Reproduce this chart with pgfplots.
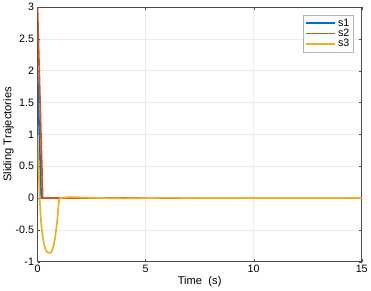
\documentclass[border=0pt]{standalone}
\usepackage{pgfplots}
\pgfplotsset{compat=1.18}
\usepackage{fontspec}
\setmainfont{Liberation Sans}
\definecolor{mblue}{rgb}{0,0.447,0.741}
\definecolor{mred}{rgb}{0.85,0.325,0.098}
\definecolor{myel}{rgb}{0.929,0.694,0.125}
\begin{document}
\begin{tikzpicture}
\begin{axis}[
  scale only axis,
  width=326bp, height=256bp,
  xmin=0, xmax=15, ymin=-1, ymax=3,
  xtick={0,5,10,15},
  ytick={-1,-0.5,0,0.5,1,1.5,2,2.5,3},
  yticklabels={-1,-0.5,0,0.5,1,1.5,2,2.5,3},
  xticklabels={0,5,10,15},
  grid=major,
  major grid style={gray!15, line width=0.5pt},
  axis line style={gray!60!black, line width=0.5pt},
  tick style={gray!60!black},
  tick align=inside,
  major tick length=3bp,
  ticklabel style={font=\fontsize{10.8}{12}\selectfont},
  xlabel={Time\ \ (s)},
  ylabel={Sliding Trajectories},
  label style={font=\fontsize{11.3}{13}\selectfont},
  xlabel style={yshift=3bp},
  ylabel style={yshift=-5bp},
  legend style={at={(rel axis cs:0.973,0.969)}, anchor=north east,
    font=\fontsize{10.8}{12}\selectfont, draw=gray!60, inner sep=1.5bp,
    row sep=-2.5bp},
  legend cell align=left,
  legend image code/.code={\draw[mark repeat=2,mark phase=2,#1] plot coordinates {(0cm,0cm) (0.5cm,0cm) (1.05cm,0cm)};},
]
\addplot[mblue, line width=1.7pt] coordinates {(0,2) (0.17,0) (15,0)};
\addlegendentry{s1}
\addplot[mred, line width=1.7pt] coordinates {(0,3) (0.24,0) (15,0)};
\addlegendentry{s2}
\addplot[myel, line width=1.7pt, smooth, tension=0.4] coordinates {
 (0,1) (0.05,0.5) (0.1,0.02) (0.15,-0.3) (0.2,-0.5) (0.3,-0.72) (0.4,-0.83)
 (0.5,-0.86) (0.6,-0.86) (0.7,-0.8) (0.8,-0.65) (0.9,-0.4) (0.95,-0.2)
 (1.0,-0.03) (1.05,0) (1.5,0.015) (2,0.01) (3,0) (4,-0.005) (5,0) (6,0.003)
 (8,0) (10,0) (12,0) (15,0)};
\addlegendentry{s3}
\end{axis}
\end{tikzpicture}
\end{document}
